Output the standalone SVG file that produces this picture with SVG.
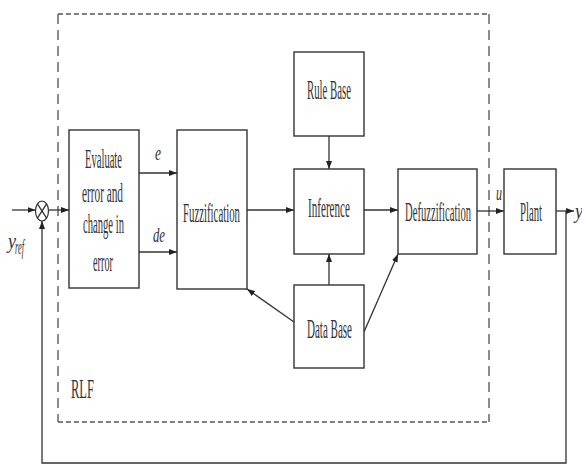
<svg xmlns="http://www.w3.org/2000/svg" width="582" height="466" viewBox="0 0 582 466">
<style>
.box{fill:#fff;stroke:#333;stroke-width:1.4}
.lbl{font-family:"Liberation Serif","Times New Roman",serif;font-size:27px;fill:#333}
.it{font-family:"Liberation Serif","Times New Roman",serif;font-style:italic;font-size:22px;fill:#333}
.ln{fill:none;stroke:#333;stroke-width:1.3}
.dh{fill:none;stroke:#555;stroke-width:1.5;stroke-dasharray:5 3}
.dv{fill:none;stroke:#666;stroke-width:1.5;stroke-dasharray:10 6}
</style>
<defs>
<marker id="ah" markerUnits="userSpaceOnUse" markerWidth="8" markerHeight="6" refX="8" refY="3" orient="auto">
<path d="M0,0 L8,3 L0,6 z" fill="#222"/>
</marker>
</defs>
<rect width="582" height="466" fill="#fff"/>
<g id="rlf">
<line class="dh" x1="58" y1="14" x2="489" y2="14"/>
<line class="dh" x1="58" y1="422" x2="489" y2="422"/>
<line class="dv" x1="58" y1="14" x2="58" y2="422"/>
<line class="dv" x1="489" y1="14" x2="489" y2="422"/>
<text class="lbl" x="71" y="398" textLength="23" lengthAdjust="spacingAndGlyphs">RLF</text>
</g>
<g id="connectors">
<path class="ln" d="M12,210 H35.5" marker-end="url(#ah)"/>
<path class="ln" d="M48.5,210 H69" marker-end="url(#ah)"/>
<path class="ln" d="M139,173 H177" marker-end="url(#ah)"/>
<path class="ln" d="M139,252 H177" marker-end="url(#ah)"/>
<path class="ln" d="M247,210 H294" marker-end="url(#ah)"/>
<path class="ln" d="M329,136 V169" marker-end="url(#ah)"/>
<path class="ln" d="M329,285 V254" marker-end="url(#ah)"/>
<path class="ln" d="M364,210 H398" marker-end="url(#ah)"/>
<path class="ln" d="M294,322 L247,289" marker-end="url(#ah)"/>
<path class="ln" d="M364,332 L398,254" marker-end="url(#ah)"/>
<path class="ln" d="M477,211 H504" marker-end="url(#ah)"/>
<path class="ln" d="M556,211 H574" marker-end="url(#ah)"/>
<path class="ln" d="M566,211 V463 H42 V221" marker-end="url(#ah)"/>
<text class="it" x="155" y="160" textLength="6" lengthAdjust="spacingAndGlyphs">e</text>
<text class="it" x="153" y="242" textLength="12" lengthAdjust="spacingAndGlyphs">de</text>
<text class="it" x="496" y="200" font-size="20" textLength="6" lengthAdjust="spacingAndGlyphs">u</text>
<text class="it" x="575" y="218" textLength="8" lengthAdjust="spacingAndGlyphs">y</text>
<text class="it" x="8" y="248" textLength="8" lengthAdjust="spacingAndGlyphs">y</text>
<text class="it" x="15" y="254" font-size="15" textLength="9" lengthAdjust="spacingAndGlyphs">ref</text>
</g>
<g id="sum">
<ellipse cx="42" cy="211" rx="6.5" ry="10" fill="#fff" stroke="#333" stroke-width="1.2"/>
<line class="ln" x1="37.4" y1="203.9" x2="46.6" y2="218.1" stroke-width="1"/>
<line class="ln" x1="46.6" y1="203.9" x2="37.4" y2="218.1" stroke-width="1"/>
</g>
<g id="evaluate">
<rect class="box" x="69" y="130" width="70" height="158"/>
<text class="lbl" x="85" y="168" textLength="37" lengthAdjust="spacingAndGlyphs">Evaluate</text>
<text class="lbl" x="82" y="202" textLength="41" lengthAdjust="spacingAndGlyphs">error and</text>
<text class="lbl" x="83" y="233" textLength="41" lengthAdjust="spacingAndGlyphs">change in</text>
<text class="lbl" x="93" y="271" textLength="20" lengthAdjust="spacingAndGlyphs">error</text>
</g>
<g id="fuzzification">
<rect class="box" x="177" y="130" width="70" height="159"/>
<text class="lbl" x="183" y="222" textLength="57" lengthAdjust="spacingAndGlyphs">Fuzzification</text>
</g>
<g id="rulebase">
<rect class="box" x="294" y="52" width="70" height="84"/>
<text class="lbl" x="307" y="99" textLength="44" lengthAdjust="spacingAndGlyphs">Rule Base</text>
</g>
<g id="inference">
<rect class="box" x="294" y="169" width="70" height="85"/>
<text class="lbl" x="308" y="217" textLength="42" lengthAdjust="spacingAndGlyphs">Inference</text>
</g>
<g id="database">
<rect class="box" x="294" y="285" width="70" height="83"/>
<text class="lbl" x="307" y="338" textLength="45" lengthAdjust="spacingAndGlyphs">Data Base</text>
</g>
<g id="defuzzification">
<rect class="box" x="398" y="169" width="79" height="85"/>
<text class="lbl" x="405" y="221" textLength="66" lengthAdjust="spacingAndGlyphs">Defuzzification</text>
</g>
<g id="plant">
<rect class="box" x="504" y="169" width="52" height="85"/>
<text class="lbl" x="520" y="221" textLength="22" lengthAdjust="spacingAndGlyphs">Plant</text>
</g>
</svg>
